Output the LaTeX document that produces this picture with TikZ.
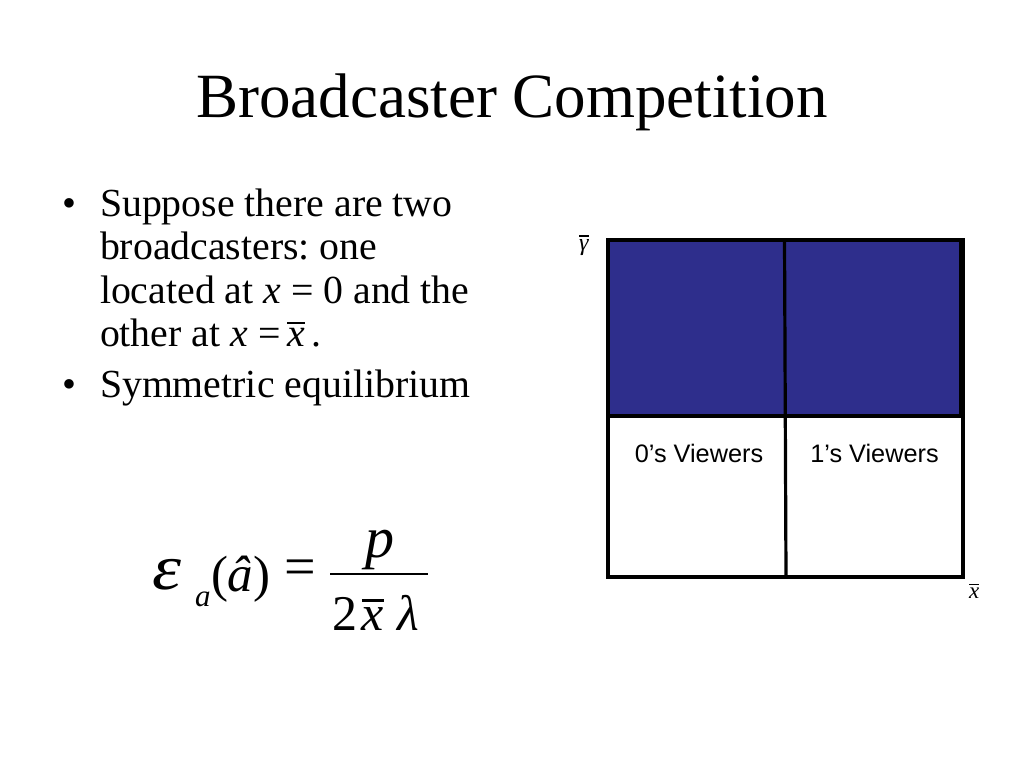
\documentclass[tikz,border=0pt]{standalone}
\usepackage{fontspec}
\setmainfont{Liberation Serif}
\newfontfamily\arial{Liberation Sans}
\definecolor{boxblue}{RGB}{46,46,140}
\newcommand\ovl[1]{\vbox{\hrule height .06em\kern .1em\hbox{#1}}}
\newcommand\fsz[1]{\fontsize{#1}{#1}\selectfont}
\frenchspacing
\tikzset{
  txt/.style={inner sep=0pt, outer sep=0pt, anchor=base west},
  ctxt/.style={inner sep=0pt, outer sep=0pt, anchor=base},
  bodytext/.style={txt, font=\fsz{39.8}},
  viewlabel/.style={inner sep=0pt, anchor=base, font=\arial\fsz{25.3}},
  gridline/.style={line width=3.2pt, black},
  frameline/.style={line width=3.8pt, black}
}
\begin{document}
\begin{tikzpicture}[x=1pt,y=-1pt]
\useasboundingbox[fill=white] (0,0) rectangle (1024,768);
% title
\node[ctxt, font=\fsz{63}] (title) at (512,117) {Broadcaster Competition};
% bullets
\node[bodytext] (b1) at (62,216) {\textbullet};
\node[bodytext] (l1) at (100,216) {Suppose there are two};
\node[bodytext] (l2) at (100,259.5) {broadcasters: one};
\node[bodytext] (l3) at (100,303) {located at \textit{x} = 0 and the};
\node[bodytext] (l4) at (100,346.5) {other at \textit{x} =\,\ovl{\textit{x}}\,.};
\node[bodytext] (b2) at (62,397) {\textbullet};
\node[bodytext] (l5) at (100,397) {Symmetric equilibrium};
% formula
\node[txt, font=\fsz{64}] (eps) at (152,589) {\scalebox{1.15}[1]{\textit{ε}}};
\node[txt, font=\fsz{31}] (suba) at (195,606) {\textit{a}};
\node[txt, font=\fsz{51}] (arg) at (211,591) {(\textit{â})};
\node[inner sep=0pt, anchor=center, font=\fsz{56}] (eq) at (300,573) {=};
\coordinate (barL) at (330,574);
\coordinate (barR) at (428,574);
\draw[line width=2.4pt] (barL) -- (barR);
\node[ctxt, font=\fsz{58}] (num) at (380,557) {\textit{p}};
\node[ctxt, font=\fsz{50}] (d2) at (345,630) {2};
\node[ctxt, font=\fsz{50}] (dx) at (373,630) {\ovl{\textit{x}}};
\node[ctxt, font=\fsz{50}] (dl) at (408,630) {\textit{λ}};
% grid
\coordinate (TL) at (608,240);
\coordinate (TR) at (963,240);
\coordinate (BL) at (608,577);
\coordinate (BR) at (963,577);
\coordinate (MT) at (784.5,240);
\coordinate (MB) at (786,577);
\coordinate (HL) at (608,416);
\coordinate (HR) at (963,416);
\fill[boxblue] (TL) rectangle (785,416);
\fill[boxblue] (785,240) rectangle (961,416);
\draw[gridline] (HL) -- (HR);
\draw[gridline] (MT) -- (MB);
\draw[gridline] (960.5,240) -- (960.5,416);
\draw[frameline] (TL) -- (TR) -- (BR) -- (BL) -- cycle;
\node[viewlabel] (v0) at (699,462) {0’s Viewers};
\node[viewlabel] (v1) at (874.5,462) {1’s Viewers};
\node[txt, font=\fsz{24}] (gam) at (579,250) {\ovl{\textit{γ}}};
\node[txt, font=\fsz{23}] (xbar) at (969,598) {\ovl{\textit{x}}};
\end{tikzpicture}
\end{document}
